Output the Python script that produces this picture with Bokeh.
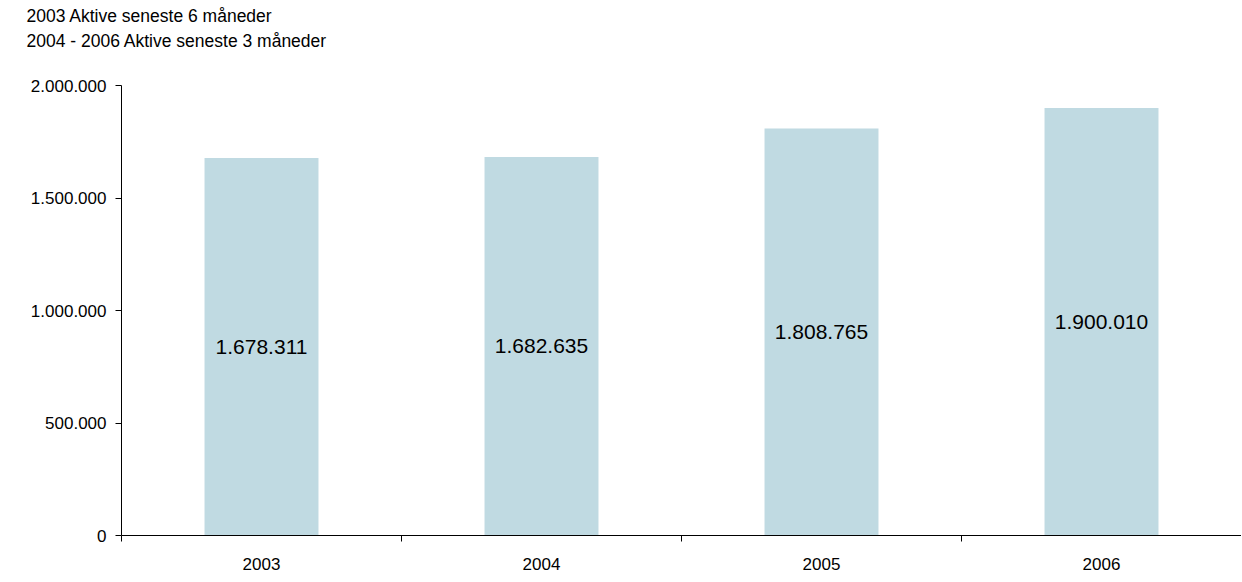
from bokeh.plotting import figure
from bokeh.models import FixedTicker, Range1d, Title, ColumnDataSource
from bokeh.core.properties import value
from bokeh.embed import file_html
from bokeh.resources import INLINE

years = ["2003", "2004", "2005", "2006"]
users = [1678311, 1682635, 1808765, 1900010]
value_labels = ["1.678.311", "1.682.635", "1.808.765", "1.900.010"]
y_ticks = [0, 500000, 1000000, 1500000, 2000000]
y_tick_labels = ["0", "500.000", "1.000.000", "1.500.000", "2.000.000"]
title_lines = ["2003 Aktive seneste 6 måneder", "2004 - 2006 Aktive seneste 3 måneder"]

FONT = "Liberation Sans"
xs = [i + 0.5 for i in range(len(years))]

p = figure(width=1241, height=578, output_backend="svg", toolbar_location=None,
           x_range=Range1d(0, len(years)), y_range=Range1d(0, 2000000),
           min_border_left=121, min_border_right=0, min_border_top=0, min_border_bottom=43,
           title=None)
p.outline_line_color = None
p.xgrid.grid_line_color = None
p.ygrid.grid_line_color = None

src = ColumnDataSource(dict(x=xs, top=users, mid=[u / 2 for u in users], lab=value_labels))
p.vbar(x="x", top="top", width=0.407, bottom=0, source=src, fill_color="#C0DAE2", line_color=None)
p.text(x="x", y="mid", text="lab", source=src, text_align="center", text_baseline="middle",
       text_font=value(FONT), text_font_size="21px", text_color="black")

# x axis
xa = p.xaxis[0]
xa.ticker = FixedTicker(ticks=xs, minor_ticks=[0, 1, 2, 3, 4])
xa.major_label_overrides = {x: y for x, y in zip(xs, years)}
xa.major_tick_line_color = None
xa.major_tick_in = 0
xa.major_tick_out = 6
xa.minor_tick_in = 0
xa.minor_tick_out = 6
xa.minor_tick_line_color = "black"
xa.axis_line_color = "black"
xa.major_label_standoff = 16
xa.major_label_text_font = FONT
xa.major_label_text_font_size = "17px"
xa.major_label_text_color = "black"

ya = p.yaxis[0]
ya.ticker = FixedTicker(ticks=y_ticks)
ya.major_label_overrides = {t: l for t, l in zip(y_ticks, y_tick_labels)}
ya.major_tick_in = 0
ya.major_tick_out = 6
ya.minor_tick_line_color = None
ya.axis_line_color = "black"
ya.major_tick_line_color = "black"
ya.major_label_standoff = 9
ya.major_label_text_font = FONT
ya.major_label_text_font_size = "17px"
ya.major_label_text_color = "black"

# spacer between title block and plot frame
p.add_layout(Title(text=" ", text_font=FONT, text_font_size="16px", standoff=16), "above")
title_standoffs = [6, 0]
for line, so in reversed(list(zip(title_lines, title_standoffs))):
    p.add_layout(Title(text=line, align="left", offset=-95, text_font=FONT,
                       text_font_size="17.5px", text_font_style="normal", text_color="black",
                       standoff=so), "above")

open("out.html", "w").write(file_html(p, INLINE))
